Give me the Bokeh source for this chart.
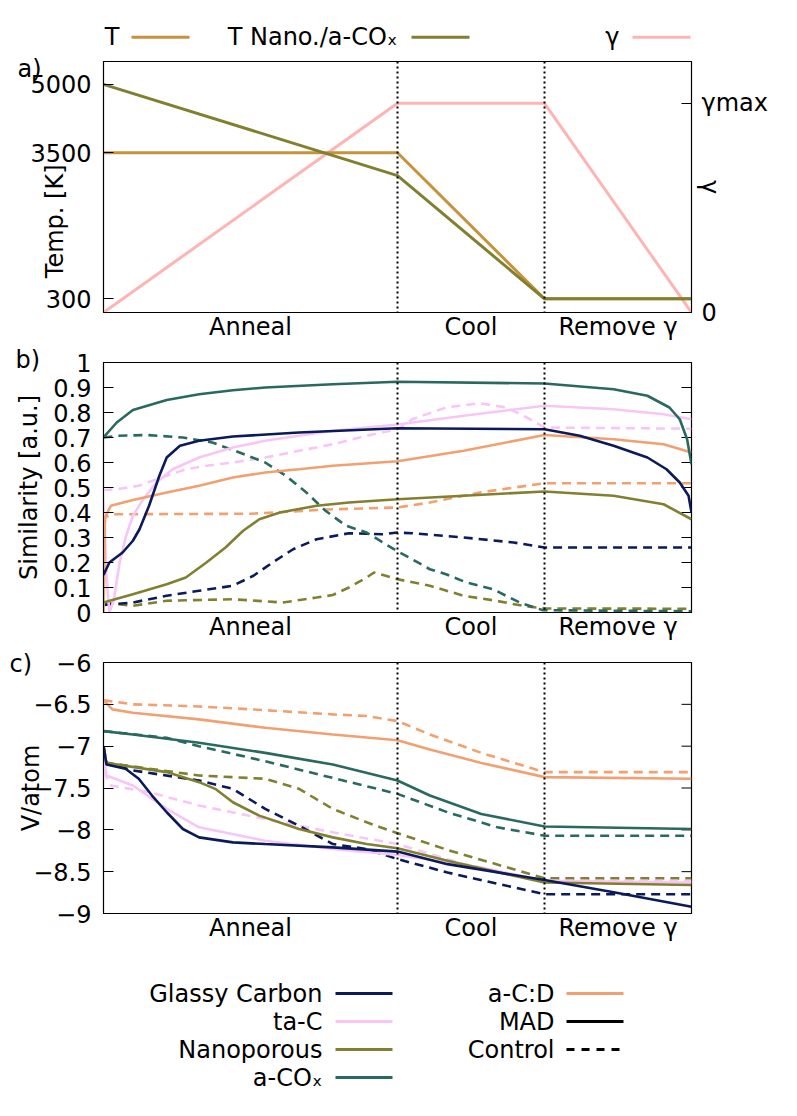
import math
from bokeh.plotting import figure
from bokeh.layouts import column
from bokeh.models import Range1d, LinearAxis, FixedTicker, Span, Title
from bokeh.core.properties import value
from bokeh.embed import file_html
from bokeh.resources import INLINE

FONT = "DejaVu Sans"
FS = "24px"

# ---------------- data ----------------
PHASE_BOUNDS = [2, 3]
PHASE_CENTERS = [1, 2.5, 3.5]
PHASE_LABELS = ["Anneal", "Cool", "Remove γ"]

# panel a
T_X = [0, 2, 3, 4]
T_VAL = [3500, 3500, 300, 300]
TN_VAL = [5000, 3000, 300, 300]
G_X = [0, 2, 3, 4]
G_VAL = [0, 1, 1, 0]
TEMP_TICKS = [300, 3500, 5000]

# panel b: similarity
SB_GC_MAD_X = [0, 0.04, 0.13, 0.2, 0.245, 0.31, 0.38, 0.43, 0.52, 0.65, 0.88, 1.33, 2.0, 3.0, 3.24, 3.47, 3.7, 3.83, 3.92, 3.98, 4.0]
SB_GC_MAD_Y = [0.15, 0.2, 0.24, 0.287, 0.333, 0.427, 0.547, 0.62, 0.667, 0.687, 0.704, 0.72, 0.737, 0.733, 0.707, 0.667, 0.62, 0.573, 0.52, 0.467, 0.40]
SB_GC_CTL_X = [0, 0.2, 0.43, 0.65, 0.88, 1.02, 1.15, 1.29, 1.45, 1.67, 1.9, 2.0, 2.1, 2.45, 2.79, 3.0, 4.0]
SB_GC_CTL_Y = [0.03, 0.04, 0.067, 0.087, 0.107, 0.147, 0.2, 0.253, 0.293, 0.317, 0.313, 0.32, 0.317, 0.30, 0.28, 0.26, 0.26]
SB_TAC_MAD_X = [0, 0.02, 0.04, 0.07, 0.11, 0.154, 0.2, 0.27, 0.36, 0.47, 0.65, 0.88, 1.1, 1.33, 1.56, 1.79, 2.0, 2.45, 3.0, 3.47, 3.81, 4.0]
SB_TAC_MAD_Y = [0.45, 0.15, 0.0, 0.05, 0.2, 0.307, 0.387, 0.453, 0.52, 0.573, 0.62, 0.66, 0.687, 0.707, 0.727, 0.74, 0.752, 0.787, 0.827, 0.813, 0.793, 0.773]
SB_TAC_CTL_X = [0, 0.09, 0.24, 0.43, 0.56, 0.7, 0.88, 1.1, 1.33, 1.56, 1.79, 2.0, 2.1, 2.33, 2.56, 2.74, 2.88, 3.0, 4.0]
SB_TAC_CTL_Y = [0.49, 0.493, 0.507, 0.547, 0.573, 0.587, 0.60, 0.62, 0.647, 0.673, 0.707, 0.733, 0.773, 0.82, 0.837, 0.82, 0.78, 0.74, 0.735]
SB_NANO_MAD_X = [0, 0.2, 0.43, 0.56, 0.7, 0.83, 0.95, 1.06, 1.2, 1.45, 1.67, 2.0, 2.45, 3.0, 3.47, 3.81, 4.0]
SB_NANO_MAD_Y = [0.04, 0.073, 0.113, 0.14, 0.2, 0.26, 0.327, 0.373, 0.40, 0.427, 0.44, 0.453, 0.467, 0.484, 0.467, 0.433, 0.373]
SB_NANO_CTL_X = [0, 0.2, 0.43, 0.88, 1.22, 1.45, 1.56, 1.67, 1.79, 1.84, 1.92, 2.0, 2.22, 2.45, 2.67, 2.85, 3.0, 4.0]
SB_NANO_CTL_Y = [0.04, 0.027, 0.047, 0.053, 0.04, 0.06, 0.07, 0.1, 0.14, 0.16, 0.147, 0.133, 0.107, 0.067, 0.047, 0.027, 0.016, 0.015]
SB_ACOX_MAD_X = [0, 0.09, 0.2, 0.43, 0.65, 0.88, 1.1, 1.56, 2.0, 3.0, 3.47, 3.7, 3.85, 3.92, 3.97, 4.0]
SB_ACOX_MAD_Y = [0.70, 0.76, 0.81, 0.85, 0.873, 0.889, 0.90, 0.913, 0.923, 0.916, 0.893, 0.867, 0.82, 0.773, 0.693, 0.593]
SB_ACOX_CTL_X = [0, 0.1, 0.29, 0.54, 0.74, 0.925, 1.1, 1.24, 1.38, 1.51, 1.65, 1.79, 1.9, 2.0, 2.1, 2.22, 2.33, 2.47, 2.65, 2.83, 2.99, 4.0]
SB_ACOX_CTL_Y = [0.70, 0.707, 0.71, 0.70, 0.68, 0.64, 0.60, 0.547, 0.48, 0.407, 0.347, 0.32, 0.28, 0.245, 0.213, 0.173, 0.153, 0.12, 0.093, 0.04, 0.009, 0.005]
SB_ACD_MAD_X = [0, 0.01, 0.05, 0.2, 0.43, 0.65, 0.88, 1.1, 1.33, 1.56, 2.0, 2.45, 3.0, 3.47, 3.81, 4.0]
SB_ACD_MAD_Y = [0.0, 0.38, 0.427, 0.45, 0.48, 0.507, 0.54, 0.56, 0.573, 0.587, 0.605, 0.647, 0.71, 0.693, 0.673, 0.64]
SB_ACD_CTL_X = [0, 0.01, 0.05, 1.0, 1.56, 2.0, 2.22, 2.56, 3.0, 4.0]
SB_ACD_CTL_Y = [0.0, 0.38, 0.393, 0.395, 0.413, 0.42, 0.44, 0.48, 0.517, 0.517]
SIM_TICKS = [0, 0.1, 0.2, 0.3, 0.4, 0.5, 0.6, 0.7, 0.8, 0.9, 1]

# panel c: energy per atom
SC_ACD_CTL_X = [0, 0.2, 0.65, 1.1, 1.56, 1.79, 2.0, 2.22, 2.57, 3.0, 4.0]
SC_ACD_CTL_Y = [-6.45, -6.5, -6.525, -6.57, -6.62, -6.64, -6.70, -6.86, -7.08, -7.31, -7.31]
SC_ACD_MAD_X = [0, 0.06, 0.2, 0.65, 1.1, 1.56, 2.0, 2.22, 2.57, 3.0, 4.0]
SC_ACD_MAD_Y = [-6.45, -6.56, -6.6, -6.68, -6.78, -6.86, -6.93, -7.04, -7.20, -7.37, -7.39]
SC_ACOX_MAD_X = [0, 0.2, 0.65, 1.1, 1.56, 2.0, 2.22, 2.57, 3.0, 4.0]
SC_ACOX_MAD_Y = [-6.82, -6.86, -6.96, -7.08, -7.22, -7.41, -7.59, -7.81, -7.96, -7.99]
SC_ACOX_CTL_X = [0, 0.43, 0.65, 1.1, 1.56, 2.0, 2.34, 2.68, 3.0, 4.0]
SC_ACOX_CTL_Y = [-6.82, -6.9, -7.0, -7.18, -7.38, -7.57, -7.79, -7.97, -8.07, -8.07]
SC_NANO_MAD_X = [0, 0.02, 0.43, 0.65, 0.76, 0.88, 1.06, 1.33, 1.56, 1.79, 2.0, 2.34, 3.0, 4.0]
SC_NANO_MAD_Y = [-7.0, -7.2, -7.31, -7.43, -7.51, -7.67, -7.83, -7.99, -8.09, -8.17, -8.22, -8.37, -8.63, -8.66]
SC_NANO_CTL_X = [0, 0.02, 0.65, 1.1, 1.33, 1.56, 1.79, 2.0, 2.34, 3.0, 4.0]
SC_NANO_CTL_Y = [-7.0, -7.2, -7.35, -7.39, -7.51, -7.75, -7.91, -8.04, -8.24, -8.58, -8.58]
SC_GC_MAD_X = [0, 0.02, 0.15, 0.24, 0.33, 0.43, 0.54, 0.65, 0.88, 1.1, 1.56, 2.0, 2.34, 3.0, 3.48, 4.0]
SC_GC_MAD_Y = [-7.0, -7.22, -7.27, -7.39, -7.59, -7.79, -7.99, -8.09, -8.15, -8.17, -8.21, -8.26, -8.41, -8.60, -8.75, -8.92]
SC_GC_CTL_X = [0, 0.02, 0.2, 0.65, 0.88, 1.1, 1.33, 1.56, 1.79, 2.0, 2.34, 3.0, 4.0]
SC_GC_CTL_Y = [-7.0, -7.2, -7.29, -7.41, -7.51, -7.75, -7.95, -8.17, -8.23, -8.35, -8.51, -8.77, -8.77]
SC_TAC_MAD_X = [0, 0.02, 0.2, 0.43, 0.65, 1.1, 1.56, 2.0, 2.57, 3.0, 4.0]
SC_TAC_MAD_Y = [-7.1, -7.35, -7.47, -7.75, -7.97, -8.13, -8.23, -8.30, -8.45, -8.61, -8.63]
SC_TAC_CTL_X = [0, 0.05, 0.31, 0.65, 1.1, 1.56, 2.0, 2.45, 3.0, 4.0]
SC_TAC_CTL_Y = [-7.3, -7.47, -7.55, -7.71, -7.87, -8.03, -8.17, -8.41, -8.61, -8.61]
E_TICKS = [-9, -8.5, -8, -7.5, -7, -6.5, -6]

C_GC = "#0a1a5a"
C_TAC = "#f8c6f6"
C_NANO = "#808030"
C_ACOX = "#29695f"
C_ACD = "#f2a070"
C_T = "#c8923a"
C_G = "#ffb4b4"

DASH = "9 6"
LW = 2.6

W = 776
BL, BR = 103, 85
NB = "\u00a0"


def style_panel(p, ylabel, lab_standoff, tag, tag_offset, tag_standoff):
    p.xgrid.visible = False
    p.ygrid.visible = False
    p.outline_line_color = "black"
    p.outline_line_width = 1.2
    p.background_fill_color = "white"
    p.border_fill_color = "white"
    xa = p.xaxis[0]
    xa.ticker = FixedTicker(ticks=PHASE_CENTERS)
    xa.major_label_overrides = {c: l for c, l in zip(PHASE_CENTERS, PHASE_LABELS)}
    xa.major_tick_in = 0
    xa.major_tick_out = 0
    xa.minor_tick_in = 0
    xa.minor_tick_out = 0
    xa.major_label_standoff = 0
    xa.major_label_text_font = FONT
    xa.major_label_text_font_size = FS
    xa.major_label_text_color = "black"
    xa.axis_line_color = "black"
    ya = p.yaxis[0]
    ya.major_tick_in = 10
    ya.major_tick_out = 0
    ya.minor_tick_in = 0
    ya.minor_tick_out = 0
    ya.major_label_standoff = 12
    ya.major_label_text_font = FONT
    ya.major_label_text_font_size = FS
    ya.major_label_text_color = "black"
    ya.axis_label = ylabel
    ya.axis_label_standoff = lab_standoff
    ya.axis_label_text_font = FONT
    ya.axis_label_text_font_size = FS
    ya.axis_label_text_font_style = "normal"
    ya.axis_label_text_color = "black"
    for b in PHASE_BOUNDS:
        p.add_layout(Span(location=b, dimension="height", line_color="black",
                          line_dash="2 3", line_width=2))
    p.add_layout(Title(text=tag, align="left", offset=tag_offset, standoff=tag_standoff,
                       vertical_align="bottom", text_font=FONT, text_font_size=FS,
                       text_font_style="normal", text_color="black"), "above")


def mirror_ticks(p, ticks, xr_end):
    # inward tick marks on the right frame edge (mirror of the left axis ticks)
    p.ray(x=[xr_end] * len(ticks), y=ticks, length=10, length_units="screen",
          angle=math.pi, line_color="black", line_width=1)


def legend_fig(height, y_top, y_bottom):
    f = figure(width=W, height=height, x_range=Range1d(104, 692), y_range=Range1d(y_bottom, y_top),
               output_backend="svg", toolbar_location=None,
               min_border_left=BL, min_border_right=BR, min_border_top=0, min_border_bottom=0)
    f.axis.visible = False
    f.xgrid.visible = False
    f.ygrid.visible = False
    f.outline_line_color = None
    return f


# ---------------- top legend (page pixel coordinates) ----------------
lt = legend_fig(52, 1, 53)
TOP_LEG = [("T", C_T, 120, 132), ("T Nano./a-COₓ", C_NANO, 398, 412), ("γ", C_G, 620, 633)]
for txt, col, xr, xl in TOP_LEG:
    lt.text(x=[xr], y=[37.7], text=[txt], text_align="right", text_baseline="middle",
            text_font=value(FONT), text_font_size=FS)
    lt.segment(x0=[xl], y0=[37.7], x1=[xl + 58], y1=[37.7], line_color=col, line_width=3)

# ---------------- panel a ----------------
pa = figure(width=W, height=292, x_range=Range1d(0, 4), y_range=Range1d(0, 5500),
            output_backend="svg", toolbar_location=None,
            min_border_left=BL, min_border_right=BR, min_border_top=9, min_border_bottom=32)
pa.extra_y_ranges = {"g": Range1d(0, 1.2)}
style_panel(pa, "Temp. [K]" + NB * 9, -42, "a)", -86, -42)
pa.yaxis[0].ticker = FixedTicker(ticks=TEMP_TICKS)
ra = LinearAxis(y_range_name="g", ticker=FixedTicker(ticks=[0, 1]),
                major_label_overrides={0: "0", 1: "γmax"},
                major_tick_in=10, major_tick_out=0, minor_tick_in=0, minor_tick_out=0,
                major_label_standoff=10, major_label_text_font=FONT,
                major_label_text_font_size=FS, major_label_text_color="black",
                axis_label="γ", axis_label_standoff=-75, axis_label_text_font=FONT,
                axis_label_text_font_size=FS, axis_label_text_font_style="normal",
                axis_label_text_color="black")
pa.add_layout(ra, "right")
pa.line(G_X, G_VAL, y_range_name="g", line_color=C_G, line_width=3)
pa.line(T_X, T_VAL, line_color=C_T, line_width=3)
pa.line(T_X, TN_VAL, line_color=C_NANO, line_width=3)

# ---------------- panel b ----------------
pb = figure(width=W, height=304, x_range=Range1d(0, 4), y_range=Range1d(0, 1),
            output_backend="svg", toolbar_location=None,
            min_border_left=BL, min_border_right=BR, min_border_top=18, min_border_bottom=36)
style_panel(pb, "Similarity [a.u.]", 7, "b)", -88, -22)
pb.yaxis[0].ticker = FixedTicker(ticks=SIM_TICKS)
pb.yaxis[0].major_label_overrides = {t: ("%g" % t) for t in SIM_TICKS}
mirror_ticks(pb, SIM_TICKS, 4)
series_b = [
    (SB_ACD_CTL_X, SB_ACD_CTL_Y, C_ACD, True),
    (SB_NANO_CTL_X, SB_NANO_CTL_Y, C_NANO, True),
    (SB_GC_CTL_X, SB_GC_CTL_Y, C_GC, True),
    (SB_TAC_CTL_X, SB_TAC_CTL_Y, C_TAC, True),
    (SB_ACOX_CTL_X, SB_ACOX_CTL_Y, C_ACOX, True),
    (SB_TAC_MAD_X, SB_TAC_MAD_Y, C_TAC, False),
    (SB_ACD_MAD_X, SB_ACD_MAD_Y, C_ACD, False),
    (SB_NANO_MAD_X, SB_NANO_MAD_Y, C_NANO, False),
    (SB_GC_MAD_X, SB_GC_MAD_Y, C_GC, False),
    (SB_ACOX_MAD_X, SB_ACOX_MAD_Y, C_ACOX, False),
]
for xs, ys, col, dashed in series_b:
    pb.line(xs, ys, line_color=col, line_width=LW, line_dash=DASH if dashed else "solid")

# ---------------- panel c ----------------
pc = figure(width=W, height=301, x_range=Range1d(0, 4), y_range=Range1d(-9, -6),
            output_backend="svg", toolbar_location=None,
            min_border_left=BL, min_border_right=BR, min_border_top=14, min_border_bottom=36)
style_panel(pc, "V/atom", -15, "c)", -94, -30)
pc.yaxis[0].ticker = FixedTicker(ticks=E_TICKS)
pc.yaxis[0].major_label_overrides = {t: ("%g" % t).replace("-", "−") for t in E_TICKS}
mirror_ticks(pc, E_TICKS, 4)
series_c = [
    (SC_ACD_CTL_X, SC_ACD_CTL_Y, C_ACD, True),
    (SC_ACOX_CTL_X, SC_ACOX_CTL_Y, C_ACOX, True),
    (SC_NANO_CTL_X, SC_NANO_CTL_Y, C_NANO, True),
    (SC_TAC_CTL_X, SC_TAC_CTL_Y, C_TAC, True),
    (SC_GC_CTL_X, SC_GC_CTL_Y, C_GC, True),
    (SC_ACD_MAD_X, SC_ACD_MAD_Y, C_ACD, False),
    (SC_ACOX_MAD_X, SC_ACOX_MAD_Y, C_ACOX, False),
    (SC_TAC_MAD_X, SC_TAC_MAD_Y, C_TAC, False),
    (SC_NANO_MAD_X, SC_NANO_MAD_Y, C_NANO, False),
    (SC_GC_MAD_X, SC_GC_MAD_Y, C_GC, False),
]
for xs, ys, col, dashed in series_c:
    pc.line(xs, ys, line_color=col, line_width=LW, line_dash=DASH if dashed else "solid")

# ---------------- bottom legend (page pixel coordinates) ----------------
lb = legend_fig(150, 950, 1100)
LEG_ROWS = [994, 1022, 1050, 1078]
BOT_LEG = [
    ("Glassy Carbon", C_GC, "solid", 0, 0),
    ("ta-C", C_TAC, "solid", 0, 1),
    ("Nanoporous", C_NANO, "solid", 0, 2),
    ("a-COₓ", C_ACOX, "solid", 0, 3),
    ("a-C:D", C_ACD, "solid", 1, 0),
    ("MAD", "black", "solid", 1, 1),
    ("Control", "black", "8 7", 1, 2),
]
COL_TEXT_R = [323, 555]
COL_LINE_L = [336, 567]
for txt, col, dash, c, r in BOT_LEG:
    yy = LEG_ROWS[r]
    lb.text(x=[COL_TEXT_R[c]], y=[yy], text=[txt], text_align="right", text_baseline="middle",
            text_font=value(FONT), text_font_size=FS)
    lb.segment(x0=[COL_LINE_L[c]], y0=[yy], x1=[COL_LINE_L[c] + 57], y1=[yy],
               line_color=col, line_width=3, line_dash=dash)

layout = column(lt, pa, pb, pc, lb, spacing=0)
open("out.html", "w").write(file_html(layout, INLINE))
